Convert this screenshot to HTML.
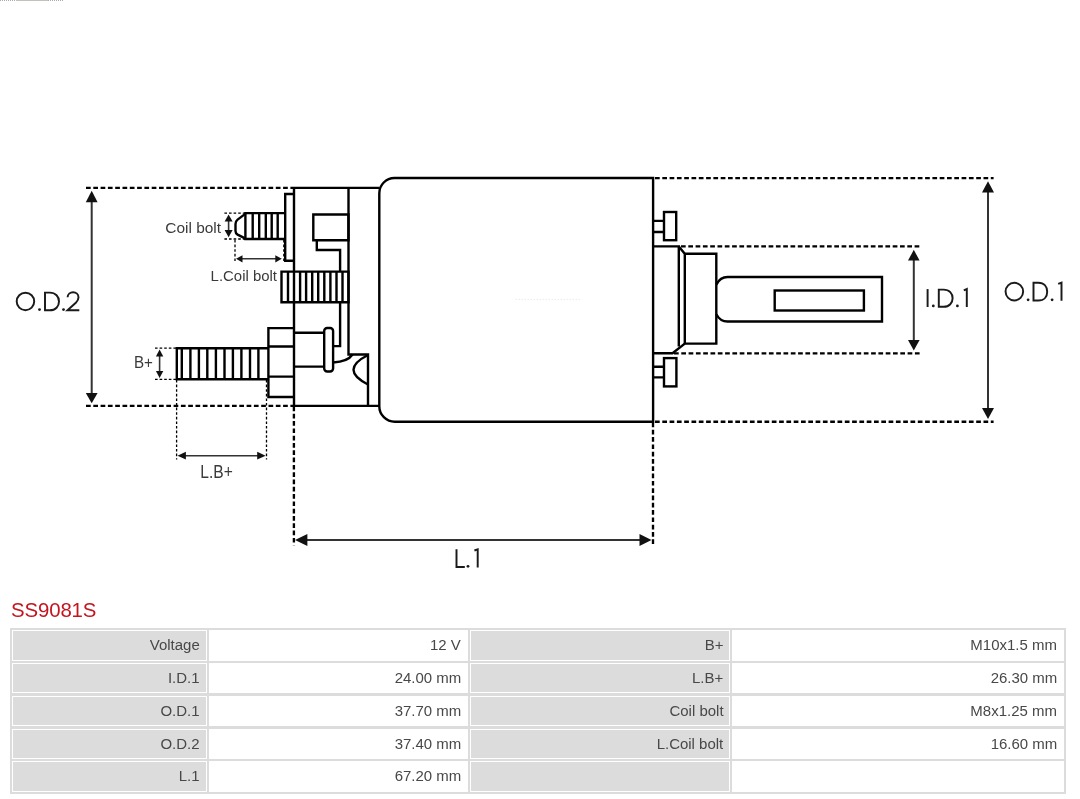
<!DOCTYPE html>
<html>
<head>
<meta charset="utf-8">
<style>
html,body{margin:0;padding:0;background:#fff;width:1080px;height:799px;overflow:hidden;position:relative;font-family:"Liberation Sans",sans-serif;}
svg{position:absolute;left:0;top:0;will-change:transform;}
.t{position:absolute;background:#dcdcdc;}
.c{position:absolute;box-sizing:border-box;border:1px solid #fff;text-align:right;color:#484848;font-size:14px;line-height:28px;padding-right:6px;white-space:nowrap;}
.g{background:#dcdcdc;}
.s{will-change:transform;display:inline-block;transform:scaleX(1.07);transform-origin:100% 50%;}
.w{background:#fff;}
#title{will-change:transform;position:absolute;left:11px;top:596px;font-size:20.4px;color:#c3151f;letter-spacing:-0.12px;line-height:28px;}
</style>
</head>
<body>
<svg width="1080" height="600" viewBox="0 0 1080 600">
<g fill="none" stroke="#000" stroke-width="2.35">
  <!-- thick dashed -->
  <g stroke-dasharray="4.7 2.6">
    <path d="M86,187.9H293"/>
    <path d="M86,405.9H293"/>
    <path d="M293.9,406.5V545.5"/>
    <path d="M653,422.5V545.6"/>
    <path d="M655,178.1H993.6"/>
    <path d="M655,421.7H993.6"/>
    <path d="M681,246.4H919.8"/>
    <path d="M674,353.4H919.8"/>
  </g>
</g>
<g fill="none" stroke="#000" stroke-width="1.3" stroke-dasharray="2.6 2">
  <path d="M224.4,213.1H245"/>
  <path d="M224.4,239H245"/>
  <path d="M235,240V262"/>
  <path d="M283.8,240V261"/>
  <path d="M155,348.2H176"/>
  <path d="M155,379.3H176"/>
  <path d="M176.6,380V459.5"/>
  <path d="M266.5,380V459.5"/>
</g>
<!-- dimension lines -->
<g stroke="#333" stroke-width="2" fill="none">
  <path d="M91.7,200V395"/>
  <path d="M988,190V410"/>
  <path d="M913.8,258V342"/>
  <path d="M305,539.9H642"/>
</g>
<g fill="#111" stroke="none">
  <path d="M91.7,190.8L85.8,202.2H97.6Z"/>
  <path d="M91.7,403.2L85.8,393H97.6Z"/>
  <path d="M988,181.3L982,192.4H994Z"/>
  <path d="M988,419.1L982,408H994Z"/>
  <path d="M913.8,249.8L908,260.6H919.6Z"/>
  <path d="M913.8,350.6L908,340H919.6Z"/>
  <path d="M295,539.9L307.4,533.9V545.9Z"/>
  <path d="M651.5,539.9L639.5,533.9V545.9Z"/>
</g>
<!-- small dimension arrows -->
<g stroke="#333" stroke-width="1.6" fill="none">
  <path d="M228.6,220V231"/>
  <path d="M241,258.8H277"/>
  <path d="M159.6,355V372"/>
  <path d="M184,455.7H259"/>
</g>
<g fill="#111" stroke="none">
  <path d="M228.6,214.6L224.6,221.6H232.6Z"/>
  <path d="M228.6,237.2L224.6,230H232.6Z"/>
  <path d="M236,258.8L242.5,255.2V262.4Z"/>
  <path d="M281.8,258.8L275.3,255.2V262.4Z"/>
  <path d="M159.6,349.6L155.9,356.5H163.3Z"/>
  <path d="M159.6,378L155.9,371H163.3Z"/>
  <path d="M177.5,455.7L185.9,451.8V459.6Z"/>
  <path d="M265.6,455.7L257.2,451.8V459.6Z"/>
</g>
<!-- solid drawing -->
<g fill="none" stroke="#000" stroke-width="2.4" stroke-linejoin="miter">
  <!-- body -->
  <path d="M394.5,178H653.1V421.7H394.8A15.5,15.5 0 0 1 379.3,406.2V193.3A15.3,15.3 0 0 1 394.5,178Z"/>
  <!-- housing -->
  <path d="M379.3,187.9H294V405.9H379.3"/>
  <path d="M348.5,187.9V354.5H368V405.9"/>
  <path d="M313.3,214.5H348.5V240.2H313.3Z"/>
  <path d="M316.8,240.2V250H340.1V271.6"/>
  <path d="M340.1,302.3V346.1H333.2"/>
  <!-- plate -->
  <path d="M294,194H285.2V260.7H294"/>
  <!-- coil bolt -->
  <path d="M285.2,213.1H245.4V239H285.2"/>
  <path d="M252.7,213.1V239M259.2,213.1V239M265.8,213.1V239M271.7,213.1V239M277.7,213.1V239"/>
  <path d="M245.6,213.6L237.6,219.6Q235.5,221.3 235.5,224V231Q235.5,233.4 237.6,234.6L245.6,238.6"/>
  <!-- L coil threads -->
  <path d="M281.5,271.6H348.5V302.3H281.5Z"/>
  <path d="M288,271.6V302.3M300.1,271.6V302.3M306.1,271.6V302.3M312.2,271.6V302.3M318.2,271.6V302.3M324.3,271.6V302.3M330.4,271.6V302.3M336.5,271.6V302.3M342.5,271.6V302.3"/>
  <!-- nut -->
  <path d="M294,328.1H268.4V397H294M268.4,346.5H294M268.4,376.6H294"/>
  <!-- B+ threads -->
  <path d="M268.4,348.2H176.8V379.3H268.4"/>
  <path d="M181.8,348.2V379.3M190.4,348.2V379.3M198.9,348.2V379.3M207.3,348.2V379.3M215.9,348.2V379.3M224.5,348.2V379.3M232.9,348.2V379.3M241.4,348.2V379.3M250,348.2V379.3M258.4,348.2V379.3"/>
  <!-- cylinder + washer -->
  <path d="M294,332.8H324.2M294,366.6H324.2"/>
  <rect x="324.2" y="328" width="8.9" height="43.5" rx="3"/>
  <path d="M333.1,362.5Q348,361.5 352.5,354.5"/>
  <path d="M368,355Q339,369.8 368,384.5"/>
  <!-- right side -->
  <path d="M653.1,220.9H664M653.1,232H664"/>
  <rect x="664" y="212" width="12.2" height="28.2"/>
  <path d="M653.1,366.7H664M653.1,377.4H664"/>
  <rect x="664" y="358.1" width="12.4" height="28.3"/>
  <path d="M653.1,246.4H678.8V346.4"/>
  <path d="M678.8,246.4L684.8,253.8H716.3V343.6H684.8V253.8"/>
  <path d="M684.8,343.6L672.5,353.3H653.1"/>
  <path d="M716.3,284.6Q720.2,277 727.5,277H882V321.5H727.5Q720.2,321.5 716.3,314.2"/>
  <rect x="774.7" y="290.5" width="89.2" height="20"/>
</g>
<path d="M0,0.5H16M48,0.5H64" stroke="#aaa" stroke-width="1" stroke-dasharray="1 1" fill="none"/>
<path d="M16,0.5H48" stroke="#c4c0bc" stroke-width="1" fill="none"/>
<!-- faint watermark line -->
<path d="M515.7,299.4H580.5" stroke="#ccc" stroke-width="1" stroke-dasharray="1 2" fill="none" opacity="0.6"/>
<!-- big labels -->
<g fill="none" stroke="#1a1a1a" stroke-width="1.95" stroke-linecap="butt">
  <!-- O.D.2 -->
  <circle cx="25.45" cy="301.45" r="8.75"/>
  <path d="M45,292.6H49.8C55.6,292.6 59,296.6 59,301.45C59,306.3 55.6,310.3 49.8,310.3H45Z"/>
  <path d="M67.6,297.3C67.6,294.3 70.1,292.3 73.1,292.3C76.1,292.3 78.5,294.5 78.5,297.4C78.5,299.6 77.3,301.1 75.8,302.8L67.5,310.3H79.3"/>
  <!-- O.D.1 -->
  <circle cx="1014.35" cy="291.6" r="8.8"/>
  <path d="M1033.5,282.75H1038.3C1044.3,282.75 1047.2,286.8 1047.2,291.65C1047.2,296.5 1044.3,300.5 1038.3,300.5H1033.5Z"/>
  <path d="M1058.2,283.9L1061.5,282.6V300.7"/>
  <!-- I.D.1 -->
  <path d="M927.6,289.1V307"/>
  <path d="M938.8,289.6H943.6C949.4,289.6 952.6,293.6 952.6,298.2C952.6,302.8 949.4,306.8 943.6,306.8H938.8Z"/>
  <path d="M963.8,290.4L966.8,289.1V307"/>
  <!-- L.1 -->
  <path d="M456.5,549.3V567H464.8"/>
  <path d="M474.4,550.5L477.7,549.3V567.5"/>
</g>
<g fill="#1a1a1a">
  <circle cx="39.5" cy="309.6" r="1.4"/>
  <circle cx="63.5" cy="309.6" r="1.4"/>
  <circle cx="1028.1" cy="299.8" r="1.4"/>
  <circle cx="1052.1" cy="299.8" r="1.4"/>
  <circle cx="933.3" cy="305.9" r="1.4"/>
  <circle cx="957.4" cy="305.9" r="1.4"/>
  <circle cx="468" cy="566.3" r="1.4"/>
</g>
<!-- small labels -->
<g fill="#3a3a3a" font-family="Liberation Sans, sans-serif">
  <text x="165.3" y="233" font-size="14.5" textLength="55.8" lengthAdjust="spacingAndGlyphs">Coil bolt</text>
  <text x="210.6" y="280.6" font-size="14" textLength="66.4" lengthAdjust="spacingAndGlyphs">L.Coil bolt</text>
  <text x="134" y="367.8" font-size="17" textLength="19" lengthAdjust="spacingAndGlyphs">B+</text>
  <text x="200.3" y="477.8" font-size="17.5" textLength="32.5" lengthAdjust="spacingAndGlyphs">L.B+</text>
</g>
</svg>

<div id="title">SS9081S</div>

<div class="t" style="left:10px;top:628px;width:1056px;height:166px;"></div>
<div class="c g" style="left:12.00px;top:630.00px;width:194.90px;height:30.6px;"><span class="s">Voltage</span></div>
<div class="c w" style="left:208.60px;top:630.00px;width:259.60px;height:30.6px;"><span class="s">12 V</span></div>
<div class="c g" style="left:470.00px;top:630.00px;width:260.10px;height:30.6px;"><span class="s">B+</span></div>
<div class="c w" style="left:731.90px;top:630.00px;width:332.20px;height:30.6px;"><span class="s">M10x1.5 mm</span></div>
<div class="c g" style="left:12.00px;top:662.85px;width:194.90px;height:30.6px;"><span class="s">I.D.1</span></div>
<div class="c w" style="left:208.60px;top:662.85px;width:259.60px;height:30.6px;"><span class="s">24.00 mm</span></div>
<div class="c g" style="left:470.00px;top:662.85px;width:260.10px;height:30.6px;"><span class="s">L.B+</span></div>
<div class="c w" style="left:731.90px;top:662.85px;width:332.20px;height:30.6px;"><span class="s">26.30 mm</span></div>
<div class="c g" style="left:12.00px;top:695.70px;width:194.90px;height:30.6px;"><span class="s">O.D.1</span></div>
<div class="c w" style="left:208.60px;top:695.70px;width:259.60px;height:30.6px;"><span class="s">37.70 mm</span></div>
<div class="c g" style="left:470.00px;top:695.70px;width:260.10px;height:30.6px;"><span class="s">Coil bolt</span></div>
<div class="c w" style="left:731.90px;top:695.70px;width:332.20px;height:30.6px;"><span class="s">M8x1.25 mm</span></div>
<div class="c g" style="left:12.00px;top:728.55px;width:194.90px;height:30.6px;"><span class="s">O.D.2</span></div>
<div class="c w" style="left:208.60px;top:728.55px;width:259.60px;height:30.6px;"><span class="s">37.40 mm</span></div>
<div class="c g" style="left:470.00px;top:728.55px;width:260.10px;height:30.6px;"><span class="s">L.Coil bolt</span></div>
<div class="c w" style="left:731.90px;top:728.55px;width:332.20px;height:30.6px;"><span class="s">16.60 mm</span></div>
<div class="c g" style="left:12.00px;top:761.40px;width:194.90px;height:30.6px;"><span class="s">L.1</span></div>
<div class="c w" style="left:208.60px;top:761.40px;width:259.60px;height:30.6px;"><span class="s">67.20 mm</span></div>
<div class="c g" style="left:470.00px;top:761.40px;width:260.10px;height:30.6px;"></div>
<div class="c w" style="left:731.90px;top:761.40px;width:332.20px;height:30.6px;"></div>
</body>
</html>
